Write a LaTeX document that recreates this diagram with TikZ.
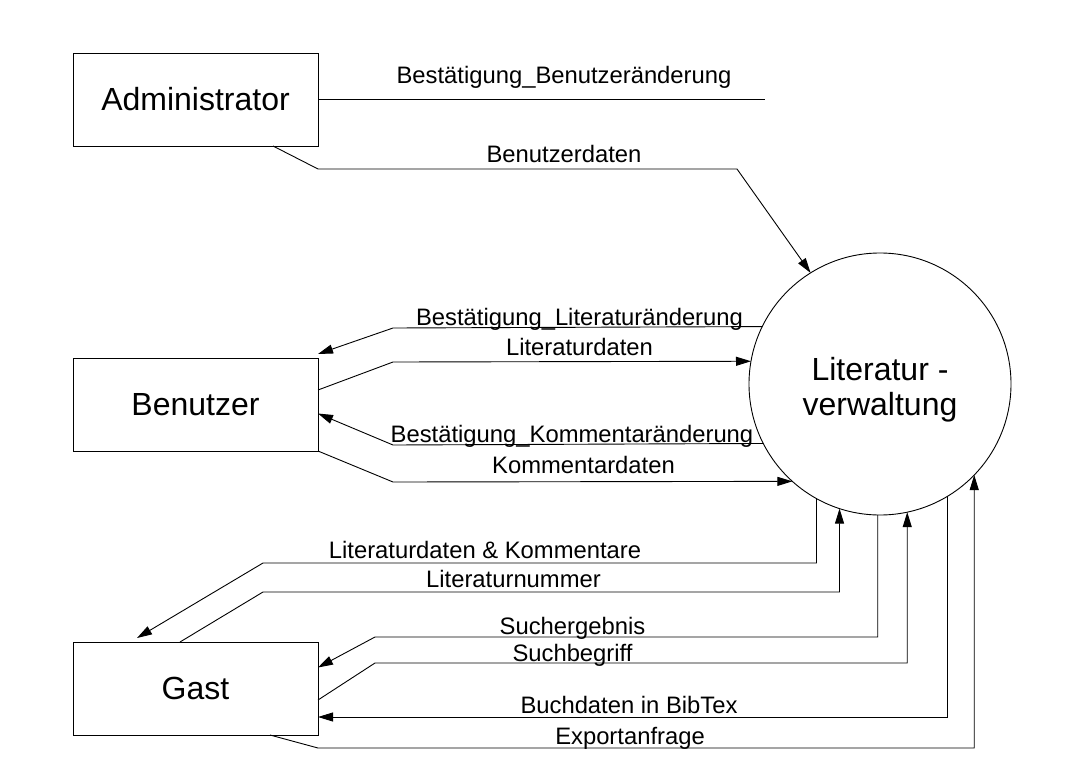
\documentclass[tikz,border=0pt]{standalone}
\usepackage{fontspec}
\setmainfont{Liberation Sans}
\usetikzlibrary{arrows.meta,calc}

\newcommand{\bigfont}{\fontsize{32}{35}\selectfont}
\newcommand{\flowfont}{\fontsize{23.8}{27}\selectfont}

\begin{document}
\begin{tikzpicture}[x=1pt,y=-1pt,line width=0.9pt,
  ext/.style={draw, minimum width=245pt, minimum height=93pt, font=\bigfont, outer sep=0pt},
  proc/.style={draw, circle, minimum size=262pt, inner sep=0pt, outer sep=0pt},
  flow/.style={-{Triangle[length=15pt,width=9pt]}},
  lbl/.style={font=\flowfont, inner sep=0pt, anchor=base}]
\useasboundingbox[fill=white] (0,0) rectangle (1089,760);

% terminators and process
\node[ext] (admin) at (195.5,99.5) {Administrator};
\node[ext] (benutzer) at (195.5,404.5) {Benutzer};
\node[ext] (gast) at (195.5,688.5) {Gast};
\node[proc] (proc) at (880,384) {};
\node[font=\bigfont, align=center, inner sep=0pt] (procTxt) at (880,390) {Literatur -\\verwaltung};
\coordinate (bbEnd) at (765,99.5);

% Administrator
\draw (admin.east) -- (bbEnd);
\node[lbl] (lBenAend) at (564,83) {Bestätigung\_Benutzeränderung};
\draw[flow] ($(admin.south east)+(-45,0)$) -- (318,169) -- (737,169) -- (proc.122);
\node[lbl] (lBenDaten) at (564,162) {Benutzerdaten};

% Benutzer
\draw[flow] (proc.154.7) -- (393,328) -- ($(benutzer.north east)+(0,-4)$);
\node[lbl] (lLitAend) at (579.5,325) {Bestätigung\_Literaturänderung};
\draw[flow] ($(benutzer.east)+(0,-14.5)$) -- (393,362) -- (proc.170.3);
\node[lbl] (lLitDaten) at (579.5,355) {Literaturdaten};
\draw[flow] (proc.207.8) -- (393,445) -- ($(benutzer.east)+(0,9)$);
\node[lbl] (lKomAend) at (572,442) {Bestätigung\_Kommentaränderung};
\draw[flow] (benutzer.south east) -- (393,482) -- (proc.228.4);
\node[lbl] (lKomDaten) at (583.5,473) {Kommentardaten};

% Gast
\draw[flow] (proc.241.75) |- (263,563) -- ($(gast.north west)+(64,-4)$);
\node[lbl] (lLitKom) at (485,558) {Literaturdaten \& Kommentare};
\draw[flow] ($(gast.north west)+(107,0)$) -- (263,592) -| (proc.252.2);
\node[lbl] (lLitNr) at (513.5,587) {Literaturnummer};
\draw[flow] (proc.269) |- (375,637) -- ($(gast.east)+(0,-21)$);
\node[lbl] (lSuchErg) at (572.5,634) {Suchergebnis};
\draw[flow] ($(gast.east)+(0,11.5)$) -- (375,663) -| (proc.282.3);
\node[lbl] (lSuchBeg) at (572.5,661) {Suchbegriff};
\draw[flow] (proc.301.3) |- ($(gast.east)+(0,28.5)$);
\node[lbl] (lBibTex) at (629,713) {Buchdaten in BibTex};
\draw[flow] ($(gast.south east)+(-48,0)$) -- (318,748) -| (proc.316.5);
\node[lbl] (lExport) at (630,744) {Exportanfrage};
\end{tikzpicture}
\end{document}
